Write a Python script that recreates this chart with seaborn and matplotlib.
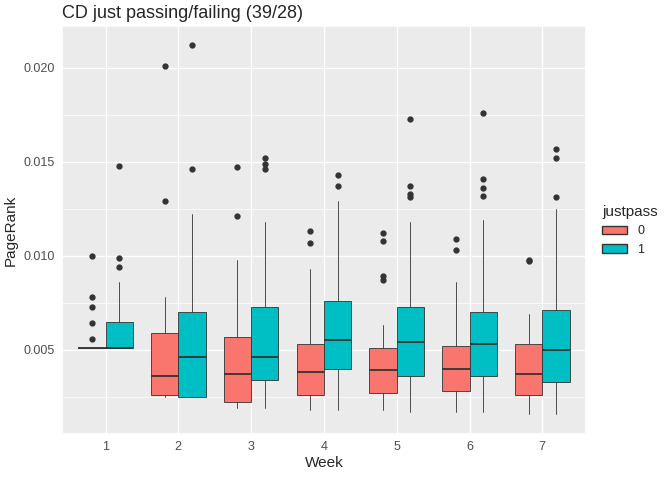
import matplotlib
matplotlib.use("Agg")
import matplotlib.pyplot as plt
import matplotlib.patches as mpatches
import seaborn as sns

weeks = [1, 2, 3, 4, 5, 6, 7]
groups = ["0", "1"]
colors = {"0": "#F8766D", "1": "#00BFC4"}

# five-number summaries, per group, per week
whislo = {"0": [0.0051, 0.0025, 0.0019, 0.0018, 0.0018, 0.0017, 0.0016],
          "1": [0.0051, 0.0025, 0.0019, 0.0018, 0.0017, 0.0017, 0.0016]}
q1 = {"0": [0.0051, 0.0026, 0.0022, 0.0026, 0.0027, 0.0028, 0.0026],
      "1": [0.0051, 0.0025, 0.0034, 0.0040, 0.0036, 0.0036, 0.0033]}
med = {"0": [0.0051, 0.0036, 0.0037, 0.0038, 0.0039, 0.0040, 0.0037],
       "1": [0.0051, 0.0046, 0.0046, 0.0055, 0.0054, 0.0053, 0.0050]}
q3 = {"0": [0.0051, 0.0059, 0.0057, 0.0053, 0.0051, 0.0052, 0.0053],
      "1": [0.0065, 0.0070, 0.0073, 0.0076, 0.0073, 0.0070, 0.0071]}
whishi = {"0": [0.0051, 0.0078, 0.0098, 0.0093, 0.0063, 0.0086, 0.0069],
          "1": [0.0086, 0.0122, 0.0118, 0.0129, 0.0118, 0.0119, 0.0125]}
outliers = {"0": [[0.0056, 0.0064, 0.0073, 0.0078, 0.0100], [0.0129, 0.0201], [0.0121, 0.0147],
                  [0.0107, 0.0113], [0.0087, 0.0089, 0.0108, 0.0112], [0.0103, 0.0109], [0.0097, 0.0098]],
            "1": [[0.0094, 0.0099, 0.0148], [0.0146, 0.0212], [0.0146, 0.0149, 0.0152],
                  [0.0137, 0.0143], [0.0131, 0.0133, 0.0137, 0.0173], [0.0132, 0.0136, 0.0141, 0.0176],
                  [0.0131, 0.0152, 0.0157]]}

sns.set_theme(style="darkgrid", rc={"axes.facecolor": "#EBEBEB", "grid.color": "white"})
plt.rcParams["font.family"] = ["Liberation Sans", "DejaVu Sans"]
fig, ax = plt.subplots(figsize=(6.72, 4.8), dpi=100)

for gi, g in enumerate(groups):
    stats = []
    for i in range(len(weeks)):
        stats.append(dict(whislo=whislo[g][i], q1=q1[g][i], med=med[g][i], q3=q3[g][i],
                          whishi=whishi[g][i], fliers=outliers[g][i]))
    pos = [w + (gi - 0.5) * 0.375 for w in weeks]
    ax.bxp(stats, positions=pos, widths=0.375, patch_artist=True, showcaps=False,
           boxprops=dict(facecolor=colors[g], edgecolor="#333333", linewidth=0.6),
           medianprops=dict(color="#333333", linewidth=1.3),
           whiskerprops=dict(color="#333333", linewidth=0.6),
           flierprops=dict(marker="o", markerfacecolor="#333333", markeredgecolor="#333333", markersize=3.5))

ax.set_xlim(0.4, 7.6)
ax.set_ylim(0.0005, 0.0222)
ax.set_xticks(weeks)
ax.set_xticklabels([str(w) for w in weeks])
ax.set_yticks([0.005, 0.010, 0.015, 0.020])
ax.set_yticklabels(["0.005", "0.010", "0.015", "0.020"])
ax.set_yticks([0.0025, 0.0075, 0.0125, 0.0175], minor=True)
ax.grid(which="minor", color="white", linewidth=0.5)
ax.grid(which="major", color="white", linewidth=1.0)
ax.tick_params(colors="#4D4D4D", labelsize=9, length=3, pad=2, which="major")
ax.tick_params(which="minor", length=0)
ax.set_xlabel("Week", fontsize=11, labelpad=2)
ax.set_ylabel("PageRank", fontsize=11, labelpad=4)
ax.set_title("CD just passing/failing (39/28)", loc="left", fontsize=13)

handles = [mpatches.Patch(facecolor=colors[g], edgecolor="#333333", label=g) for g in groups]
leg = ax.legend(handles=handles, title="justpass", loc="center left", bbox_to_anchor=(1.01, 0.5),
                frameon=False, fontsize=9, title_fontsize=11)
leg._legend_box.align = "left"

plt.subplots_adjust(left=0.092, right=0.872, top=0.945, bottom=0.095)
fig.savefig("out.png")
